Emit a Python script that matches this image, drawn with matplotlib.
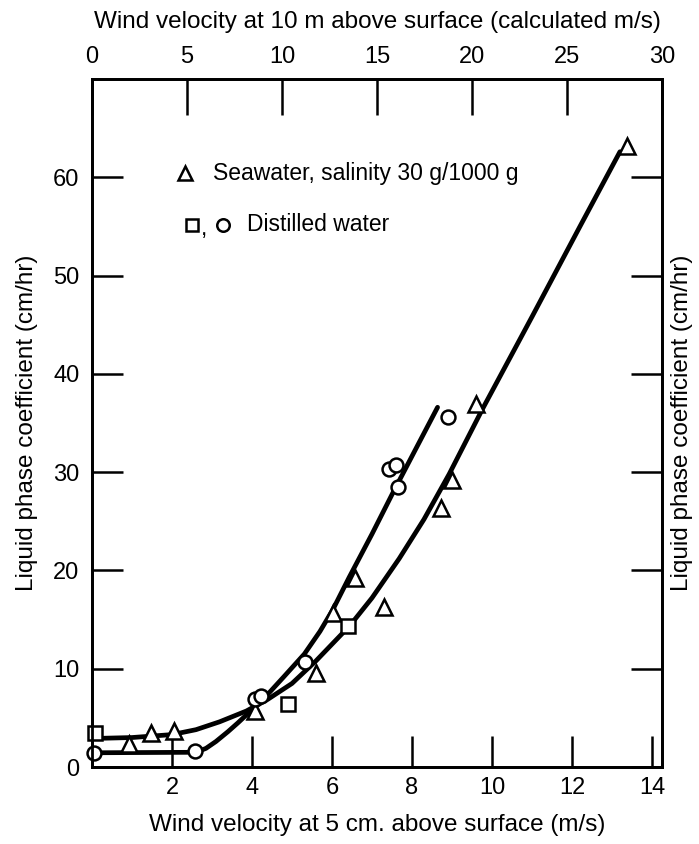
import matplotlib.pyplot as plt

plt.rcParams['font.family'] = ['Liberation Sans', 'DejaVu Sans']

# Seawater points (triangles)
sea_x = [0.92, 1.48, 2.04, 4.07, 5.6, 6.02, 6.57, 7.31, 8.72, 8.99, 9.59, 13.37]
sea_y = [2.3, 3.5, 3.7, 5.7, 9.6, 15.7, 19.2, 16.3, 26.4, 29.2, 36.9, 63.2]

# Distilled water points (squares and circles)
sq_x = [0.07, 4.9, 6.39]
sq_y = [3.5, 6.4, 14.3]
circ_x = [0.05, 2.57, 4.07, 4.22, 5.32, 7.43, 7.6, 7.64, 8.91]
circ_y = [1.4, 1.6, 6.9, 7.2, 10.7, 30.3, 30.7, 28.5, 35.6]

# hand-drawn curves
curve_a_x = [0.0, 2.6, 2.85, 3.1, 3.4, 3.65, 3.86, 4.1, 4.44, 4.8, 5.31, 5.7, 6.02, 6.43, 7.0, 7.51, 8.1, 8.64]
curve_a_y = [1.45, 1.5, 1.9, 2.6, 3.6, 4.5, 5.3, 6.2, 7.6, 9.2, 11.5, 13.8, 16.0, 19.3, 23.7, 27.8, 32.4, 36.6]
curve_b_x = [0.0, 1.0, 2.0, 2.6, 3.19, 3.86, 4.4, 5.0, 5.6, 6.45, 7.0, 7.68, 8.3, 8.93, 9.76, 11.0, 12.2, 13.2]
curve_b_y = [2.9, 3.0, 3.3, 3.8, 4.6, 5.7, 6.9, 8.5, 10.8, 14.4, 17.2, 21.2, 25.2, 29.8, 36.4, 45.8, 55.0, 62.6]

bottom_ticks = [2, 4, 6, 8, 10, 12, 14]
top_ticks = [0, 5, 10, 15, 20, 25, 30]
y_ticks = [0, 10, 20, 30, 40, 50, 60]

fig = plt.figure(figsize=(6.99, 8.44), dpi=100)
ax = fig.add_axes([0.1316, 0.0912, 0.8154, 0.8152])

ax.plot(curve_a_x, curve_a_y, color='black', lw=3.4, solid_capstyle='round', zorder=2)
ax.plot(curve_b_x, curve_b_y, color='black', lw=3.4, solid_capstyle='round', zorder=2)

mk = dict(linestyle='none', mfc='white', mec='black', mew=1.8, clip_on=False, zorder=3)
ax.plot(sea_x, sea_y, marker='^', ms=11, **mk)
ax.plot(sq_x, sq_y, marker='s', ms=9.5, **mk)
ax.plot(circ_x, circ_y, marker='o', ms=10, **mk)

ax.set_xlim(0, 14.25)
ax.set_ylim(0, 70)
ax.set_xticks(bottom_ticks)
ax.set_yticks(y_ticks)
ax.tick_params(direction='in', length=22, width=1.8, labelsize=17, pad=7,
               right=True)
ax.tick_params(axis='y', pad=9)
for s in ax.spines.values():
    s.set_linewidth(2.0)

ax.set_xlabel('Wind velocity at 5 cm. above surface (m/s)', fontsize=17.5, labelpad=11)
ax.set_ylabel('Liquid phase coefficient (cm/hr)', fontsize=17.5, labelpad=11)

# top axis: 10 m wind speed
top = ax.twiny()
top.set_xlim(0, 30)
top.set_xticks(top_ticks)
top.tick_params(direction='in', length=26, width=1.8, labelsize=17, pad=8)
top.set_xlabel('Wind velocity at 10 m above surface (calculated m/s)', fontsize=17.5, labelpad=13)
for s in top.spines.values():
    s.set_linewidth(2.0)

ax.text(1.015, 0.5, 'Liquid phase coefficient (cm/hr)', transform=ax.transAxes,
        rotation=90, ha='left', va='center', fontsize=17.5)

# key
ax.plot([0.163], [0.863], marker='^', ms=10, transform=ax.transAxes, **mk)
ax.text(0.212, 0.863, 'Seawater, salinity 30 g/1000 g', transform=ax.transAxes,
        ha='left', va='center', fontsize=16.5)
ax.plot([0.175], [0.788], marker='s', ms=9, transform=ax.transAxes, **mk)
ax.text(0.196, 0.783, ',', transform=ax.transAxes, ha='center', va='center', fontsize=16.5)
ax.plot([0.229], [0.788], marker='o', ms=9, transform=ax.transAxes, **mk)
ax.text(0.272, 0.788, 'Distilled water', transform=ax.transAxes,
        ha='left', va='center', fontsize=16.5)

fig.savefig('out.png', dpi=100)
